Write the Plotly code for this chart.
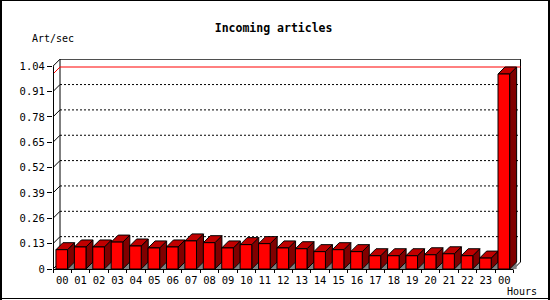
import plotly.graph_objects as go

# ---------------- data ----------------
hours = ["00", "01", "02", "03", "04", "05", "06", "07", "08", "09", "10", "11",
         "12", "13", "14", "15", "16", "17", "18", "19", "20", "21", "22", "23", "00"]
rates = [0.099, 0.113, 0.113, 0.138, 0.118, 0.108, 0.113, 0.144, 0.135, 0.108,
         0.125, 0.130, 0.108, 0.104, 0.089, 0.099, 0.089, 0.068, 0.068, 0.068,
         0.073, 0.078, 0.068, 0.056, 1.000]
ytick_vals = [0, 0.13, 0.26, 0.39, 0.52, 0.65, 0.78, 0.91, 1.04]
ytick_text = ["0", "0.13", "0.26", "0.39", "0.52", "0.65", "0.78", "0.91", "1.04"]
chart_title = "Incoming articles"
y_title = "Art/sec"
x_title = "Hours"

# ---------------- geometry / style ----------------
W, H = 550, 300
L, R, T, B = 53, 521, 59, 269          # plot-area edges in pixels
SLOT = 18.42                            # px per hour slot
YS = 195.0                              # px per unit of value
DEPTH = 7                               # 3-D depth in px
DX, DY = DEPTH / SLOT, DEPTH / YS
BAR_OFF, BAR_W = 0.16, 0.63
XMAX, YMAX = (R - L) / SLOT, (B - T) / YS
FONT = "DejaVu Sans Mono"
RED, TOPRED, SIDERED, SHADOW = "#ff0000", "#c00000", "#800000", "#808080"

n = len(rates)
ymax_box = ytick_vals[-1]
vmax = max(rates)


def px2paper(px, py):
    return (px - L) / (R - L), (B - py) / (B - T)


front_x, front_y, top_x, top_y, side_x, side_y, sh_x, sh_y = ([] for _ in range(8))
for i, v in enumerate(rates):
    x0 = i + BAR_OFF
    x1 = x0 + BAR_W
    sh_x += [x1, x1 + DX, x1 + DX, x1, None]
    sh_y += [0, DY, 0, 0, None]
    side_x += [x1, x1, x1 + DX, x1 + DX, x1, None]
    side_y += [0, v, v + DY, DY, 0, None]
    top_x += [x0, x0 + DX, x1 + DX, x1, x0, None]
    top_y += [v, v + DY, v + DY, v, v, None]
    front_x += [x0, x0, x1, x1, x0, None]
    front_y += [0, v, v, 0, 0, None]

fig = go.Figure()
fig.add_trace(go.Scatter(x=sh_x, y=sh_y, mode="lines", fill="toself", fillcolor=SHADOW,
                         line=dict(width=0, color=SHADOW), hoverinfo="skip", showlegend=False))
for xs, ys, col in [(side_x, side_y, SIDERED), (top_x, top_y, TOPRED), (front_x, front_y, RED)]:
    fig.add_trace(go.Scatter(x=xs, y=ys, mode="lines", fill="toself", fillcolor=col,
                             line=dict(width=1, color="black"), hoverinfo="skip",
                             showlegend=False))

shapes = []
# back-wall dotted gridlines
for v in ytick_vals[1:-1]:
    shapes.append(dict(type="line", xref="x", yref="y", x0=DX, x1=n + DX, y0=v + DY, y1=v + DY,
                       line=dict(color="black", width=1, dash="2px,2px"), layer="below"))
# back frame
shapes.append(dict(type="line", xref="x", yref="y", x0=DX, x1=n + DX,
                   y0=ymax_box + DY, y1=ymax_box + DY, line=dict(color="black", width=1), layer="below"))
shapes.append(dict(type="line", xref="x", yref="y", x0=DX, x1=DX,
                   y0=DY, y1=ymax_box + DY, line=dict(color="black", width=1), layer="below"))
shapes.append(dict(type="line", xref="x", yref="y", x0=n + DX, x1=n + DX,
                   y0=DY, y1=ymax_box + DY, line=dict(color="black", width=1), layer="below"))
shapes.append(dict(type="line", xref="x", yref="y", x0=n, x1=n + DX, y0=0, y1=DY,
                   line=dict(color="black", width=1), layer="below"))
# left-wall diagonal ticks
for v in ytick_vals:
    shapes.append(dict(type="line", xref="x", yref="y", x0=0, x1=DX, y0=v, y1=v + DY,
                       line=dict(color="black", width=1), layer="below"))
# max line (red)
shapes.append(dict(type="line", xref="x", yref="y", x0=DX, x1=n + DX, y0=vmax + DY, y1=vmax + DY,
                   line=dict(color=RED, width=1), layer="below"))
shapes.append(dict(type="line", xref="x", yref="y", x0=0, x1=DX, y0=vmax, y1=vmax + DY,
                   line=dict(color=RED, width=1), layer="below"))
# front axis lines
shapes.append(dict(type="line", xref="paper", yref="y", x0=0.5 / (R - L), x1=0.5 / (R - L),
                   y0=0, y1=ymax_box, line=dict(color="black", width=1), layer="above"))
shapes.append(dict(type="line", xref="x", yref="paper", x0=0, x1=n, y0=-0.5 / (B - T), y1=-0.5 / (B - T),
                   line=dict(color="black", width=1), layer="above"))
# outer border of the image
for (ax0, ay0, ax1, ay1, wd) in [(1, 0, 1, 300, 2), (549, 0, 549, 300, 2),
                                 (0, 0.5, 550, 0.5, 1), (0, 298.5, 550, 298.5, 1)]:
    px0, py0 = px2paper(ax0, ay0)
    px1, py1 = px2paper(ax1, ay1)
    shapes.append(dict(type="line", xref="paper", yref="paper", x0=px0, y0=py0, x1=px1, y1=py1,
                       line=dict(color="black", width=wd), layer="above"))

ax_font = dict(family=FONT, size=10, color="black")
tick_font = dict(family=FONT, size=10.5, color="black")
ann = []
ytx, yty = px2paper(30, 38.6)
ann.append(dict(text=y_title, x=ytx, y=yty, xref="paper", yref="paper", xanchor="left",
                yanchor="middle", showarrow=False, font=ax_font))
xtx, xty = px2paper(505, 291.7)
ann.append(dict(text=x_title, x=xtx, y=xty, xref="paper", yref="paper", xanchor="left",
                yanchor="middle", showarrow=False, font=ax_font))

fig.update_layout(
    width=W, height=H, autosize=False,
    margin=dict(l=L, r=W - R, t=T, b=H - B, pad=0),
    paper_bgcolor="white", plot_bgcolor="white",
    title=dict(text=chart_title, x=273.6 / W, xref="container", xanchor="center",
               y=1 - 28 / H, yref="container", yanchor="middle",
               font=dict(family=FONT, size=11.5, color="black", weight="bold")),
    xaxis=dict(range=[0, XMAX], showgrid=False, zeroline=False, showline=False,
               tickmode="array", tickvals=[i + 0.5 for i in range(n)], ticktext=hours,
               ticks="", tickfont=tick_font, ticklabelstandoff=3,
               minor=dict(tickmode="array", tickvals=list(range(n + 1)), ticks="outside",
                          ticklen=3, tickcolor="black", tickwidth=1, showgrid=False)),
    yaxis=dict(range=[0, YMAX], showgrid=False, zeroline=False, showline=False,
               tickmode="array", tickvals=ytick_vals, ticktext=ytick_text,
               ticks="outside", ticklen=5, tickcolor="black", tickwidth=1, tickfont=tick_font),
    shapes=shapes, annotations=ann, showlegend=False,
)

fig.write_html("out.html", config={"displayModeBar": False})
